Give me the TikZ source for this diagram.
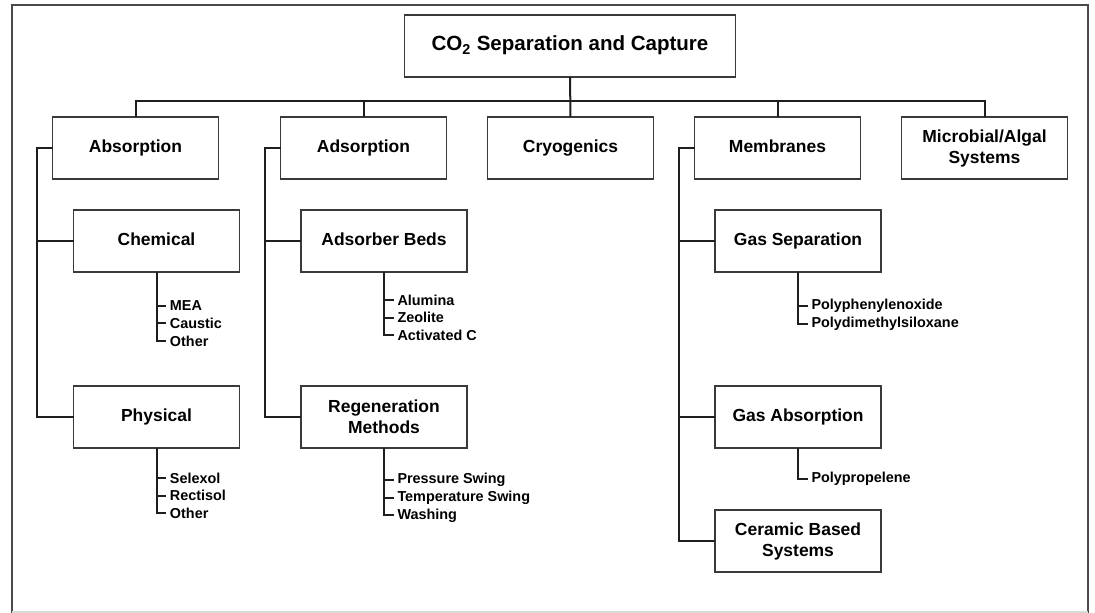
\documentclass[tikz,border=0pt]{standalone}
\usepackage{fontspec}
\setmainfont{Liberation Sans}
\usepackage{xcolor}
\definecolor{lineDark}{HTML}{1E1E1E}
\definecolor{boxEdge}{HTML}{3A3A3A}
\definecolor{frameGray}{HTML}{4A4A4A}
\usepackage{tikz}
\usetikzlibrary{positioning}
\tikzset{%
  catBox/.style={%
    rectangle,
    draw=boxEdge,
    line width=1.1pt,
    fill=white,
    minimum width=124.5pt,
    minimum height=46.5pt,
    inner sep=2pt,
    outer sep=0pt,
    align=center,
    font=\fontsize{13.1}{15.75}\selectfont\bfseries
  },
  singleBox/.style={%
    catBox,
    execute at begin node=\strut
  },
  titleBox/.style={%
    singleBox,
    minimum width=248.25pt,
    font=\fontsize{15.4}{18}\selectfont\bfseries
  },
  itemText/.style={%
    anchor=west,
    inner sep=3pt,
    outer sep=0pt,
    font=\fontsize{10.8}{13}\selectfont\bfseries
  },
  treeLine/.style={%
    draw=lineDark,
    line width=1.5pt
  }
}

\begin{document}
\begin{tikzpicture}[x=0.75pt, y=-0.75pt]
            \useasboundingbox (0,0) rectangle (1095,613);
            \draw[draw=frameGray, line width=1.5pt] (11.5,613) -- (11.5,5) -- (1088,5) -- (1088,613);
            \draw[draw=gray!30, line width=1pt] (11.5,612) -- (1088,612);

            \node[titleBox] (capture) at (570,46) {CO\textsubscript{2} Separation and Capture};

            \node[singleBox] (absorption) at (135.5,148) {Absorption};
            \node[singleBox, right=46.5pt of absorption] (adsorption) {Adsorption};
            \node[singleBox, right=30.75pt of adsorption] (cryogenics) {Cryogenics};
            \node[singleBox, right=30.75pt of cryogenics] (membranes) {Membranes};
            \node[catBox, right=30.75pt of membranes] (microbial) {Microbial/Algal\\Systems};

            \node[singleBox, below=23.25pt of absorption, xshift=15.75pt] (chemical) {Chemical};
            \node[singleBox, below=85.5pt of chemical] (physical) {Physical};
            \node[singleBox, below=23.25pt of adsorption, xshift=15.4pt] (adsorberBeds) {Adsorber Beds};
            \node[catBox, below=85.5pt of adsorberBeds] (regeneration) {Regeneration\\Methods};
            \node[singleBox, below=23.25pt of membranes, xshift=15.4pt] (gasSeparation) {Gas Separation};
            \node[singleBox, below=85.5pt of gasSeparation] (gasAbsorption) {Gas Absorption};
            \node[catBox, below=46.5pt of gasAbsorption] (ceramic) {Ceramic Based\\Systems};

            \node[itemText] (mea) at ([xshift=7.1pt, yshift=-25.3pt]chemical.south) {MEA};
            \node[itemText] (caustic) at ([xshift=7.1pt, yshift=-38.6pt]chemical.south) {Caustic};
            \node[itemText] (otherChem) at ([xshift=7.1pt, yshift=-51.9pt]chemical.south) {Other};

            \node[itemText] (selexol) at ([xshift=7.1pt, yshift=-22.5pt]physical.south) {Selexol};
            \node[itemText] (rectisol) at ([xshift=7.1pt, yshift=-35.8pt]physical.south) {Rectisol};
            \node[itemText] (otherPhys) at ([xshift=7.1pt, yshift=-49.1pt]physical.south) {Other};

            \node[itemText] (alumina) at ([xshift=7.1pt, yshift=-21pt]adsorberBeds.south) {Alumina};
            \node[itemText] (zeolite) at ([xshift=7.1pt, yshift=-34.3pt]adsorberBeds.south) {Zeolite};
            \node[itemText] (activatedC) at ([xshift=7.1pt, yshift=-47.6pt]adsorberBeds.south) {Activated C};

            \node[itemText] (pressureSwing) at ([xshift=7.1pt, yshift=-24pt]regeneration.south) {Pressure Swing};
            \node[itemText] (temperatureSwing) at ([xshift=7.1pt, yshift=-37.3pt]regeneration.south) {Temperature Swing};
            \node[itemText] (washing) at ([xshift=7.1pt, yshift=-50.6pt]regeneration.south) {Washing};

            \node[itemText] (ppo) at ([xshift=7.1pt, yshift=-25.5pt]gasSeparation.south) {Polyphenylenoxide};
            \node[itemText] (pdms) at ([xshift=7.1pt, yshift=-38.8pt]gasSeparation.south) {Polydimethylsiloxane};

            \node[itemText] (polypropelene) at ([xshift=7.1pt, yshift=-23.3pt]gasAbsorption.south) {Polypropelene};

            \coordinate (bus) at ([yshift=12pt]cryogenics.north);
            \draw[treeLine] (capture.south) -- (cryogenics.north);
            \draw[treeLine] (absorption.north) |- (bus) -| (microbial.north);
            \draw[treeLine] (adsorption.north) -- (adsorption.north |- bus);
            \draw[treeLine] (membranes.north) -- (membranes.north |- bus);

            \draw[treeLine] (absorption.west) -- ++(-11.6pt,0) coordinate (absSpine) |- (physical.west);
            \draw[treeLine] (absSpine |- chemical.west) -- (chemical.west);
            \draw[treeLine] (adsorption.west) -- ++(-11.6pt,0) coordinate (adsSpine) |- (regeneration.west);
            \draw[treeLine] (adsSpine |- adsorberBeds.west) -- (adsorberBeds.west);
            \draw[treeLine] (membranes.west) -- ++(-11.6pt,0) coordinate (memSpine) |- (ceramic.west);
            \draw[treeLine] (memSpine |- gasSeparation.west) -- (gasSeparation.west);
            \draw[treeLine] (memSpine |- gasAbsorption.west) -- (gasAbsorption.west);

            \draw[treeLine] (chemical.south) |- (otherChem.west);
            \draw[treeLine] (chemical.south |- mea.west) -- (mea.west);
            \draw[treeLine] (chemical.south |- caustic.west) -- (caustic.west);
            \draw[treeLine] (physical.south) |- (otherPhys.west);
            \draw[treeLine] (physical.south |- selexol.west) -- (selexol.west);
            \draw[treeLine] (physical.south |- rectisol.west) -- (rectisol.west);
            \draw[treeLine] (adsorberBeds.south) |- (activatedC.west);
            \draw[treeLine] (adsorberBeds.south |- alumina.west) -- (alumina.west);
            \draw[treeLine] (adsorberBeds.south |- zeolite.west) -- (zeolite.west);
            \draw[treeLine] (regeneration.south) |- (washing.west);
            \draw[treeLine] (regeneration.south |- pressureSwing.west) -- (pressureSwing.west);
            \draw[treeLine] (regeneration.south |- temperatureSwing.west) -- (temperatureSwing.west);
            \draw[treeLine] (gasSeparation.south) |- (pdms.west);
            \draw[treeLine] (gasSeparation.south |- ppo.west) -- (ppo.west);
            \draw[treeLine] (gasAbsorption.south) |- (polypropelene.west);

        \end{tikzpicture}
\end{document}
